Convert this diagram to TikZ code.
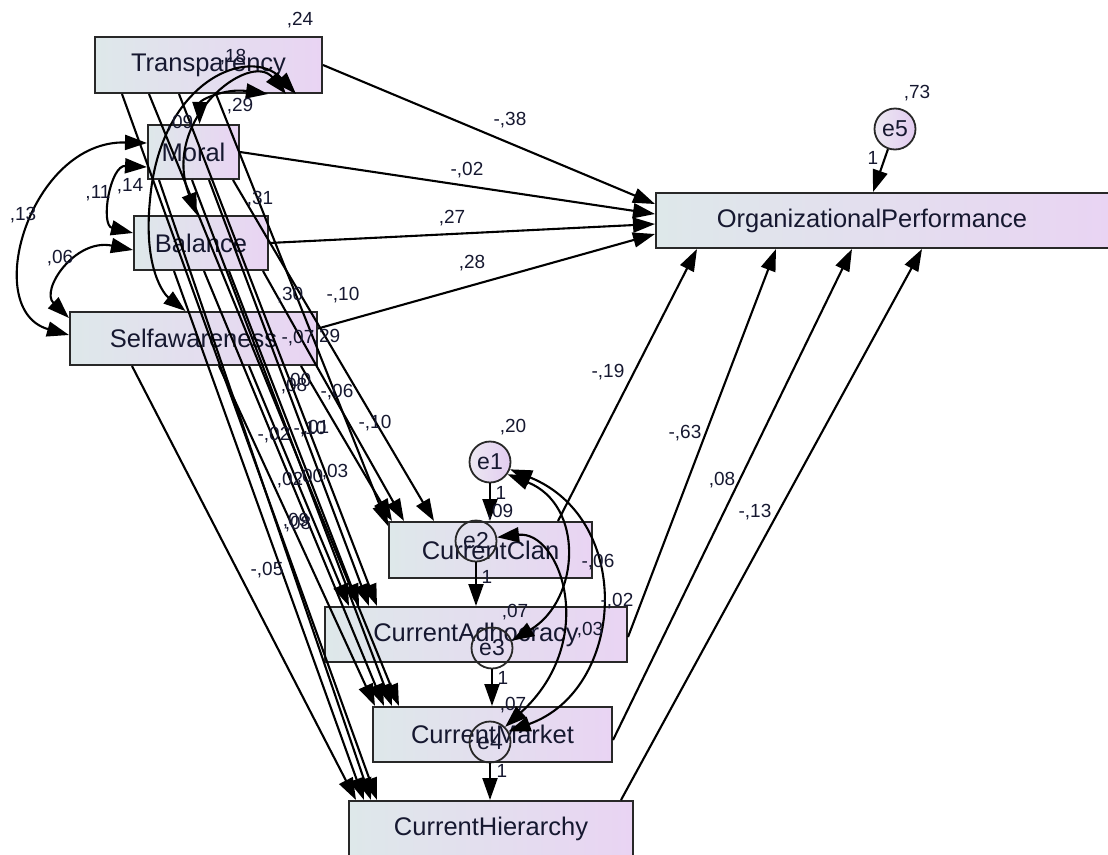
\documentclass[tikz,border=0pt]{standalone}
\usepackage{fontspec}
\setmainfont{Liberation Sans}
\usetikzlibrary{arrows.meta}
\definecolor{boxL}{RGB}{222,232,234}
\definecolor{boxR}{RGB}{233,212,243}
\definecolor{circL}{RGB}{236,232,242}
\definecolor{circR}{RGB}{226,204,240}
\definecolor{txt}{RGB}{22,24,48}
\definecolor{edgec}{RGB}{40,40,40}
\begin{document}
\begin{tikzpicture}[x=1pt,y=-1pt,
  vbox/.style={rectangle, draw=edgec, line width=2pt, left color=boxL, right color=boxR, inner sep=0pt, font=\fontsize{25.5}{27}\selectfont, text=txt},
  boxtxt/.style={inner sep=0pt, font=\fontsize{25.5}{27}\selectfont, text=txt},
  errc/.style={circle, draw=edgec, line width=1.8pt, minimum size=41pt, inner sep=0pt, font=\fontsize{23}{25}\selectfont, text=txt},
  efill/.style={left color=circL, right color=circR},
  num/.style={inner sep=0pt, font=\fontsize{19}{21}\selectfont, text=txt},
  arr/.style={line width=2.1pt, -{Triangle[length=22pt,width=15pt]}},
  cov/.style={line width=2.1pt, {Triangle[length=22pt,width=15pt]}-{Triangle[length=22pt,width=15pt]}},
]
\useasboundingbox (0,0) rectangle (1108,854);
\clip (0,0) rectangle (1108,854);

% boxes
\node[vbox, minimum width=227pt, minimum height=56pt] (Tr) at (208.5,65) {Transparency};
\node[vbox, minimum width=91pt, minimum height=54pt] (Mo) at (193.5,152) {Moral};
\node[vbox, minimum width=134pt, minimum height=54pt] (Ba) at (201,243) {Balance};
\node[vbox, minimum width=247pt, minimum height=53pt] (Se) at (193.5,338.5) {Selfawareness};
\node[vbox, minimum width=456pt, minimum height=55pt] (OP) at (884,220.5) {};
\node[boxtxt] (OPt) at (872,220.5) {OrganizationalPerformance};
\node[vbox, minimum width=203pt, minimum height=56pt] (Cl) at (490.5,550) {CurrentClan};
\node[vbox, minimum width=302pt, minimum height=55pt] (Ad) at (476,634.5) {CurrentAdhocracy};
\node[vbox, minimum width=239pt, minimum height=55pt] (Mk) at (492.5,734.5) {CurrentMarket};
\node[vbox, minimum width=284pt, minimum height=56pt] (Hi) at (491,829) {CurrentHierarchy};

% error terms
\node[errc, efill] (e1) at (490,462) {e1};
\node[errc] (e2) at (476,541) {e2};
\node[errc] (e3) at (492,648) {e3};
\node[errc] (e4) at (490,742) {e4};
\node[errc, efill] (e5) at (895,129) {e5};

% exogenous -> OP
\draw[arr] (Tr.east) -- ([yshift=-12pt]OP.north west);
\draw[arr] (Mo.east) -- ([yshift=-22pt]OP.north west);
\draw[arr] (Ba.east) -- ([yshift=-32pt]OP.north west);
\draw[arr] ([yshift=10pt]Se.east) -- ([yshift=-42pt]OP.north west);

% endogenous -> OP
\draw[arr] ([xshift=-35pt]Cl.north east) -- ([xshift=42pt]OP.south west);
\draw[arr] ([yshift=-2.5pt]Ad.east) -- ([xshift=121pt]OP.south west);
\draw[arr] ([yshift=-5.5pt]Mk.east) -- ([xshift=197pt]OP.south west);
\draw[arr] ([xshift=-13pt]Hi.north east) -- ([xshift=267pt]OP.south west);

% error arrows
\draw[arr] (e1.south) -- (Cl.north -| e1);
\draw[arr] (e2.south) -- (Ad.north -| e2);
\draw[arr] (e3.south) -- (Mk.north -| e3);
\draw[arr] (e4.south) -- (Hi.north -| e4);
\draw[arr] (e5) -- ([xshift=-11pt]OP.north);

% exogenous -> endogenous
\draw[arr] ([xshift=122pt]Tr.south west) -- ([yshift=-5pt]Cl.north west);
\draw[arr] ([xshift=85pt]Tr.south west) -- ([xshift=53pt]Ad.north west);
\draw[arr] ([xshift=55pt]Tr.south west) -- ([xshift=27pt]Mk.north west);
\draw[arr] ([xshift=28pt]Tr.south west) -- ([xshift=29pt]Hi.north west);
\draw[arr] ([xshift=-7pt]Mo.south east) -- ([xshift=46pt]Cl.north west);
\draw[arr] ([xshift=62pt]Mo.south west) -- ([xshift=45pt]Ad.north west);
\draw[arr] ([xshift=45pt]Mo.south west) -- ([xshift=20pt]Mk.north west);
\draw[arr] ([xshift=12pt]Mo.south west) -- ([xshift=23pt]Hi.north west);
\draw[arr] ([xshift=-6pt]Ba.south east) -- ([xshift=16pt]Cl.north west);
\draw[arr] ([xshift=96pt]Ba.south west) -- ([xshift=35pt]Ad.north west);
\draw[arr] ([xshift=71pt]Ba.south west) -- ([xshift=12pt]Mk.north west);
\draw[arr] ([xshift=41pt]Ba.south west) -- ([xshift=16pt]Hi.north west);
\draw[arr] ([xshift=-17pt]Se.south east) -- ([xshift=4pt]Cl.north west);
\draw[arr] ([xshift=180pt]Se.south west) -- ([xshift=25pt]Ad.north west);
\draw[arr] ([xshift=150pt]Se.south west) -- ([xshift=3pt]Mk.north west);
\draw[arr] ([xshift=63pt]Se.south west) -- ([xshift=8pt]Hi.north west);

% covariances among exogenous
\draw[cov] ([yshift=9pt]Mo.west) .. controls (30,140) and (-20,310) .. ([yshift=3.5pt]Se.west);
\draw[cov] ([yshift=-15pt]Mo.west) .. controls (110,165) and (100,225) .. ([yshift=10pt]Ba.west);
\draw[cov] ([yshift=-7pt]Ba.west) .. controls (75,238) and (40,290) .. ([yshift=20.5pt]Se.west);
\draw[cov] ([xshift=-55pt]Tr.south east) .. controls (225,88) and (200,100) .. ([xshift=6pt]Mo.north);
\draw[cov] ([xshift=-37pt]Tr.south east) .. controls (250,50) and (160,120) .. ([xshift=-4pt]Ba.north);
\draw[cov] ([xshift=-27pt]Tr.south east) .. controls (250,45) and (160,80) .. (150,200) .. controls (143,270) and (165,295) .. ([xshift=-8pt]Se.north);

% covariances among errors
\draw[cov] (e1.-20) .. controls (635,520) and (625,690) .. (e4.30);
\draw[cov] (e1.-35) .. controls (585,505) and (580,600) .. (e3.20);
\draw[cov] (e2.10) .. controls (560,530) and (600,640) .. (e4.45);

% labels
\node[num] (n1) at (300,20) {,24};
\node[num] (n2) at (233,57) {,18};
\node[num] (n3) at (240,106) {,29};
\node[num] (n4) at (180,123) {,09};
\node[num] (n5) at (260,199) {,31};
\node[num] (n6) at (98,193) {,11};
\node[num] (n7) at (130,186) {,14};
\node[num] (n8) at (23,215) {,13};
\node[num] (n9) at (60,258) {,06};
\node[num] (n10) at (290,295) {,30};
\node[num] (n11) at (343,295) {-,10};
\node[num] (n12) at (298,338) {-,07};
\node[num] (n13) at (327,337) {,29};
\node[num] (n14) at (298,381) {,00};
\node[num] (n15) at (294,386) {,08};
\node[num] (n16) at (337,392) {-,06};
\node[num] (n17) at (375,423) {-,10};
\node[num] (n18) at (274,435) {-,02};
\node[num] (n19) at (310,429) {-,10};
\node[num] (n20) at (316,428) {,01};
\node[num] (n21) at (290,480) {,02};
\node[num] (n22) at (310,477) {,00};
\node[num] (n23) at (335,472) {,03};
\node[num] (n24) at (296,521) {,09};
\node[num] (n25) at (298,524) {,08};
\node[num] (n26) at (267,570) {-,05};
\node[num] (n27) at (510,120) {-,38};
\node[num] (n28) at (467,170) {-,02};
\node[num] (n29) at (452,218) {,27};
\node[num] (n30) at (472,263) {,28};
\node[num] (n31) at (608,372) {-,19};
\node[num] (n32) at (685,433) {-,63};
\node[num] (n33) at (722,480) {,08};
\node[num] (n34) at (755,512) {-,13};
\node[num] (n35) at (917,93) {,73};
\node[num] (n36) at (873,158) {1};
\node[num] (n37) at (513,427) {,20};
\node[num] (n38) at (501,493) {1};
\node[num] (n39) at (500,512) {,09};
\node[num] (n40) at (598,562) {-,06};
\node[num] (n41) at (487,577) {1};
\node[num] (n42) at (617,601) {-,02};
\node[num] (n43) at (515,612) {,07};
\node[num] (n44) at (590,630) {,03};
\node[num] (n45) at (503,678) {1};
\node[num] (n46) at (513,705) {,07};
\node[num] (n47) at (502,771) {1};
\end{tikzpicture}
\end{document}
